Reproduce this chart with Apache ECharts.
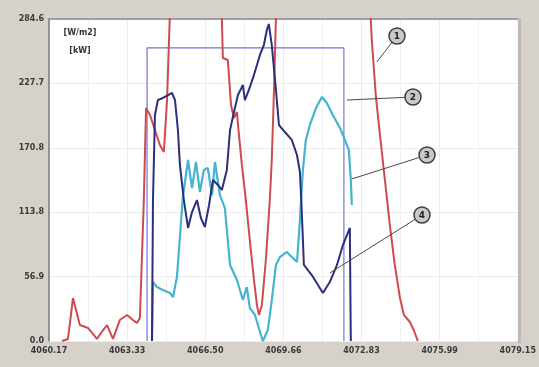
<!DOCTYPE html>
<html><head><meta charset="utf-8">
<script src="https://cdn.jsdelivr.net/npm/echarts@6/dist/echarts.min.js"></script>
<style>html,body{margin:0;padding:0;background:#d6d2ca;}#c{width:539px;height:367px;}</style>
</head><body><div id="c"></div>
<script>
const xTickLabels = ['4060.17','4063.33','4066.50','4069.66','4072.83','4075.99','4079.15'];
const yTickLabels = ['0.0','56.9','113.8','170.8','227.7','284.6'];
const xMin = 4060.17, xMax = 4079.15, yMax = 284.6;

// series 1 (red)
const red = [[4060.70,0],[4060.94,1.8],[4061.14,38.0],[4061.42,14.1],[4061.75,11.5],[4062.11,1.8],[4062.36,9.7],[4062.52,14.1],[4062.76,1.8],[4063.04,18.6],[4063.33,23.0],[4063.57,18.6],[4063.73,15.9],[4063.85,20.3],[4064.01,124.6],[4064.10,205.9],[4064.26,199.8],[4064.46,186.5],[4064.66,173.2],[4064.82,167.0],[4064.95,213.0],[4065.11,319.1],[4067.13,319.1],[4067.21,250.1],[4067.41,248.4],[4067.54,208.6],[4067.66,197.1],[4067.78,202.4],[4067.86,182.1],[4067.98,155.6],[4068.14,124.6],[4068.30,89.2],[4068.47,53.9],[4068.59,31.8],[4068.67,23.0],[4068.79,31.8],[4068.95,71.6],[4069.11,124.6],[4069.19,160.0],[4069.28,221.8],[4069.40,319.1],[4073.12,319.1],[4073.24,266.0],[4073.40,217.4],[4073.57,182.1],[4073.77,142.3],[4073.97,102.5],[4074.17,67.2],[4074.38,38.0],[4074.54,23.0],[4074.78,16.8],[4074.94,9.7],[4075.10,0]];
// series (navy)
const navy = [[4064.34,0],[4064.38,124.6],[4064.46,199.8],[4064.58,213.0],[4064.78,214.8],[4064.99,217.4],[4065.15,219.2],[4065.27,213.0],[4065.39,186.5],[4065.47,155.6],[4065.63,124.6],[4065.80,99.9],[4065.96,114.0],[4066.16,124.6],[4066.32,108.7],[4066.48,100.8],[4066.65,120.2],[4066.81,142.3],[4067.01,137.9],[4067.17,133.5],[4067.37,151.1],[4067.50,186.5],[4067.66,202.4],[4067.82,217.4],[4068.02,226.3],[4068.10,213.0],[4068.26,221.8],[4068.43,232.5],[4068.59,243.9],[4068.71,252.8],[4068.87,261.6],[4068.99,274.9],[4069.07,280.2],[4069.19,261.6],[4069.36,221.8],[4069.48,190.9],[4069.72,184.7],[4070.00,177.7],[4070.21,164.4],[4070.33,149.4],[4070.41,111.4],[4070.49,67.2],[4070.81,58.3],[4071.06,49.5],[4071.26,42.4],[4071.54,52.1],[4071.83,67.2],[4072.07,84.8],[4072.35,99.9],[4072.39,0]];
// series (cyan)
const cyan = [[4064.34,0],[4064.38,52.1],[4064.54,47.7],[4064.78,45.1],[4065.07,42.4],[4065.19,38.9],[4065.35,56.6],[4065.47,91.9],[4065.59,127.3],[4065.80,160.0],[4065.96,135.2],[4066.12,158.2],[4066.28,131.7],[4066.44,151.1],[4066.60,152.9],[4066.77,129.0],[4066.89,158.2],[4067.09,129.0],[4067.29,117.6],[4067.50,67.2],[4067.78,53.9],[4067.90,45.1],[4068.02,36.2],[4068.18,47.7],[4068.30,29.2],[4068.51,23.0],[4068.63,14.1],[4068.75,5.3],[4068.83,0],[4069.03,9.7],[4069.19,36.2],[4069.36,67.2],[4069.52,74.2],[4069.80,78.7],[4070.04,73.4],[4070.21,69.8],[4070.33,106.9],[4070.45,151.1],[4070.57,177.7],[4070.73,190.9],[4070.98,205.9],[4071.22,215.7],[4071.42,210.4],[4071.66,199.8],[4071.95,188.3],[4072.15,177.7],[4072.31,168.8],[4072.35,155.6],[4072.39,142.3],[4072.43,120.2]];
// selection box
const boxX = [4064.14, 4072.11];
const boxTop = 259.0;
// callouts: label text and data-space target
const calloutLabels = ['1','2','3','4'];
const calloutTargets = [[4073.44,246.6],[4072.23,213.0],[4072.43,143.2],[4071.54,60.1]];
const calloutPos = [[397,36],[413,97],[427,155],[422,215]];

const box = [[boxX[0],0],[boxX[0],boxTop],[boxX[1],boxTop],[boxX[1],0]];
const xInterval = (xMax - xMin) / 6;

const chart = echarts.init(document.getElementById('c'), null, {renderer:'canvas'});
const lbl = {color:'#3a3a3a', fontSize:8, fontFamily:'DejaVu Sans', fontWeight:'bold'};
chart.setOption({
  backgroundColor:'#d6d2ca',
  animation:false,
  grid:{left:49, right:21, top:19, bottom:26, show:true, backgroundColor:'#ffffff', borderWidth:0},
  xAxis:[{
    type:'value', min:xMin, max:xMax, interval:xInterval,
    axisLine:{show:false}, axisTick:{show:false},
    axisLabel:Object.assign({margin:6, showMinLabel:true, showMaxLabel:true,
      formatter:v=>xTickLabels[Math.round((v-xMin)/xInterval)]}, lbl),
    splitLine:{show:true, lineStyle:{color:'#ececec', width:1}},
    minorTick:{show:false, splitNumber:2},
    minorSplitLine:{show:true, lineStyle:{color:'#f1f1f1', width:1}}
  },{
    type:'value', position:'top', min:xMin, max:xMax, axisLabel:{show:false}, axisTick:{show:false},
    splitLine:{show:false}, axisLine:{show:true, lineStyle:{color:'#8a8a8a', width:1.5}}
  }],
  yAxis:{
    type:'value', min:0, max:yMax, interval:yMax/5,
    axisLine:{show:true, lineStyle:{color:'#7a7a7a', width:1.5}}, axisTick:{show:false},
    axisLabel:Object.assign({margin:5, formatter:v=>yTickLabels[Math.round(v/(yMax/5))]}, lbl),
    splitLine:{show:true, lineStyle:{color:'#ececec', width:1}}
  },
  series:[
    {type:'line', data:box, symbol:'none', lineStyle:{color:'#7474d6', width:1.2}, z:1},
    {type:'line', data:cyan, symbol:'none', lineStyle:{color:'#45b4cf', width:2.2}, z:2},
    {type:'line', data:red, symbol:'none', lineStyle:{color:'#cf4a4f', width:2}, z:3},
    {type:'line', data:navy, symbol:'none', lineStyle:{color:'#2b2f7e', width:2}, z:4}
  ]
});

const g = [];
// right border strip
g.push({type:'rect', shape:{x:518, y:18, width:3, height:325}, style:{fill:'#bdbab4'}, z:10});
g.push({type:'text', x:80, y:33, style:{text:'[W/m2]', fill:'#333', font:'bold 8px DejaVu Sans', align:'center', verticalAlign:'middle'}, z:10});
g.push({type:'text', x:80, y:51, style:{text:'[kW]', fill:'#333', font:'bold 8px DejaVu Sans', align:'center', verticalAlign:'middle'}, z:10});
calloutTargets.forEach((t,i)=>{
  const p = chart.convertToPixel({gridIndex:0}, t);
  const c = calloutPos[i];
  g.push({type:'line', shape:{x1:p[0], y1:p[1], x2:c[0], y2:c[1]}, style:{stroke:'#4a4a4a', lineWidth:1}, z:10});
  g.push({type:'circle', shape:{cx:c[0], cy:c[1], r:8}, style:{fill:'#c9c9c9', stroke:'#3d3d3d', lineWidth:1.5}, z:11});
  g.push({type:'text', x:c[0], y:c[1]+0.5, style:{text:calloutLabels[i], fill:'#222', font:'bold 9px DejaVu Sans', align:'center', verticalAlign:'middle'}, z:12});
});
chart.setOption({graphic:g});
</script></body></html>
